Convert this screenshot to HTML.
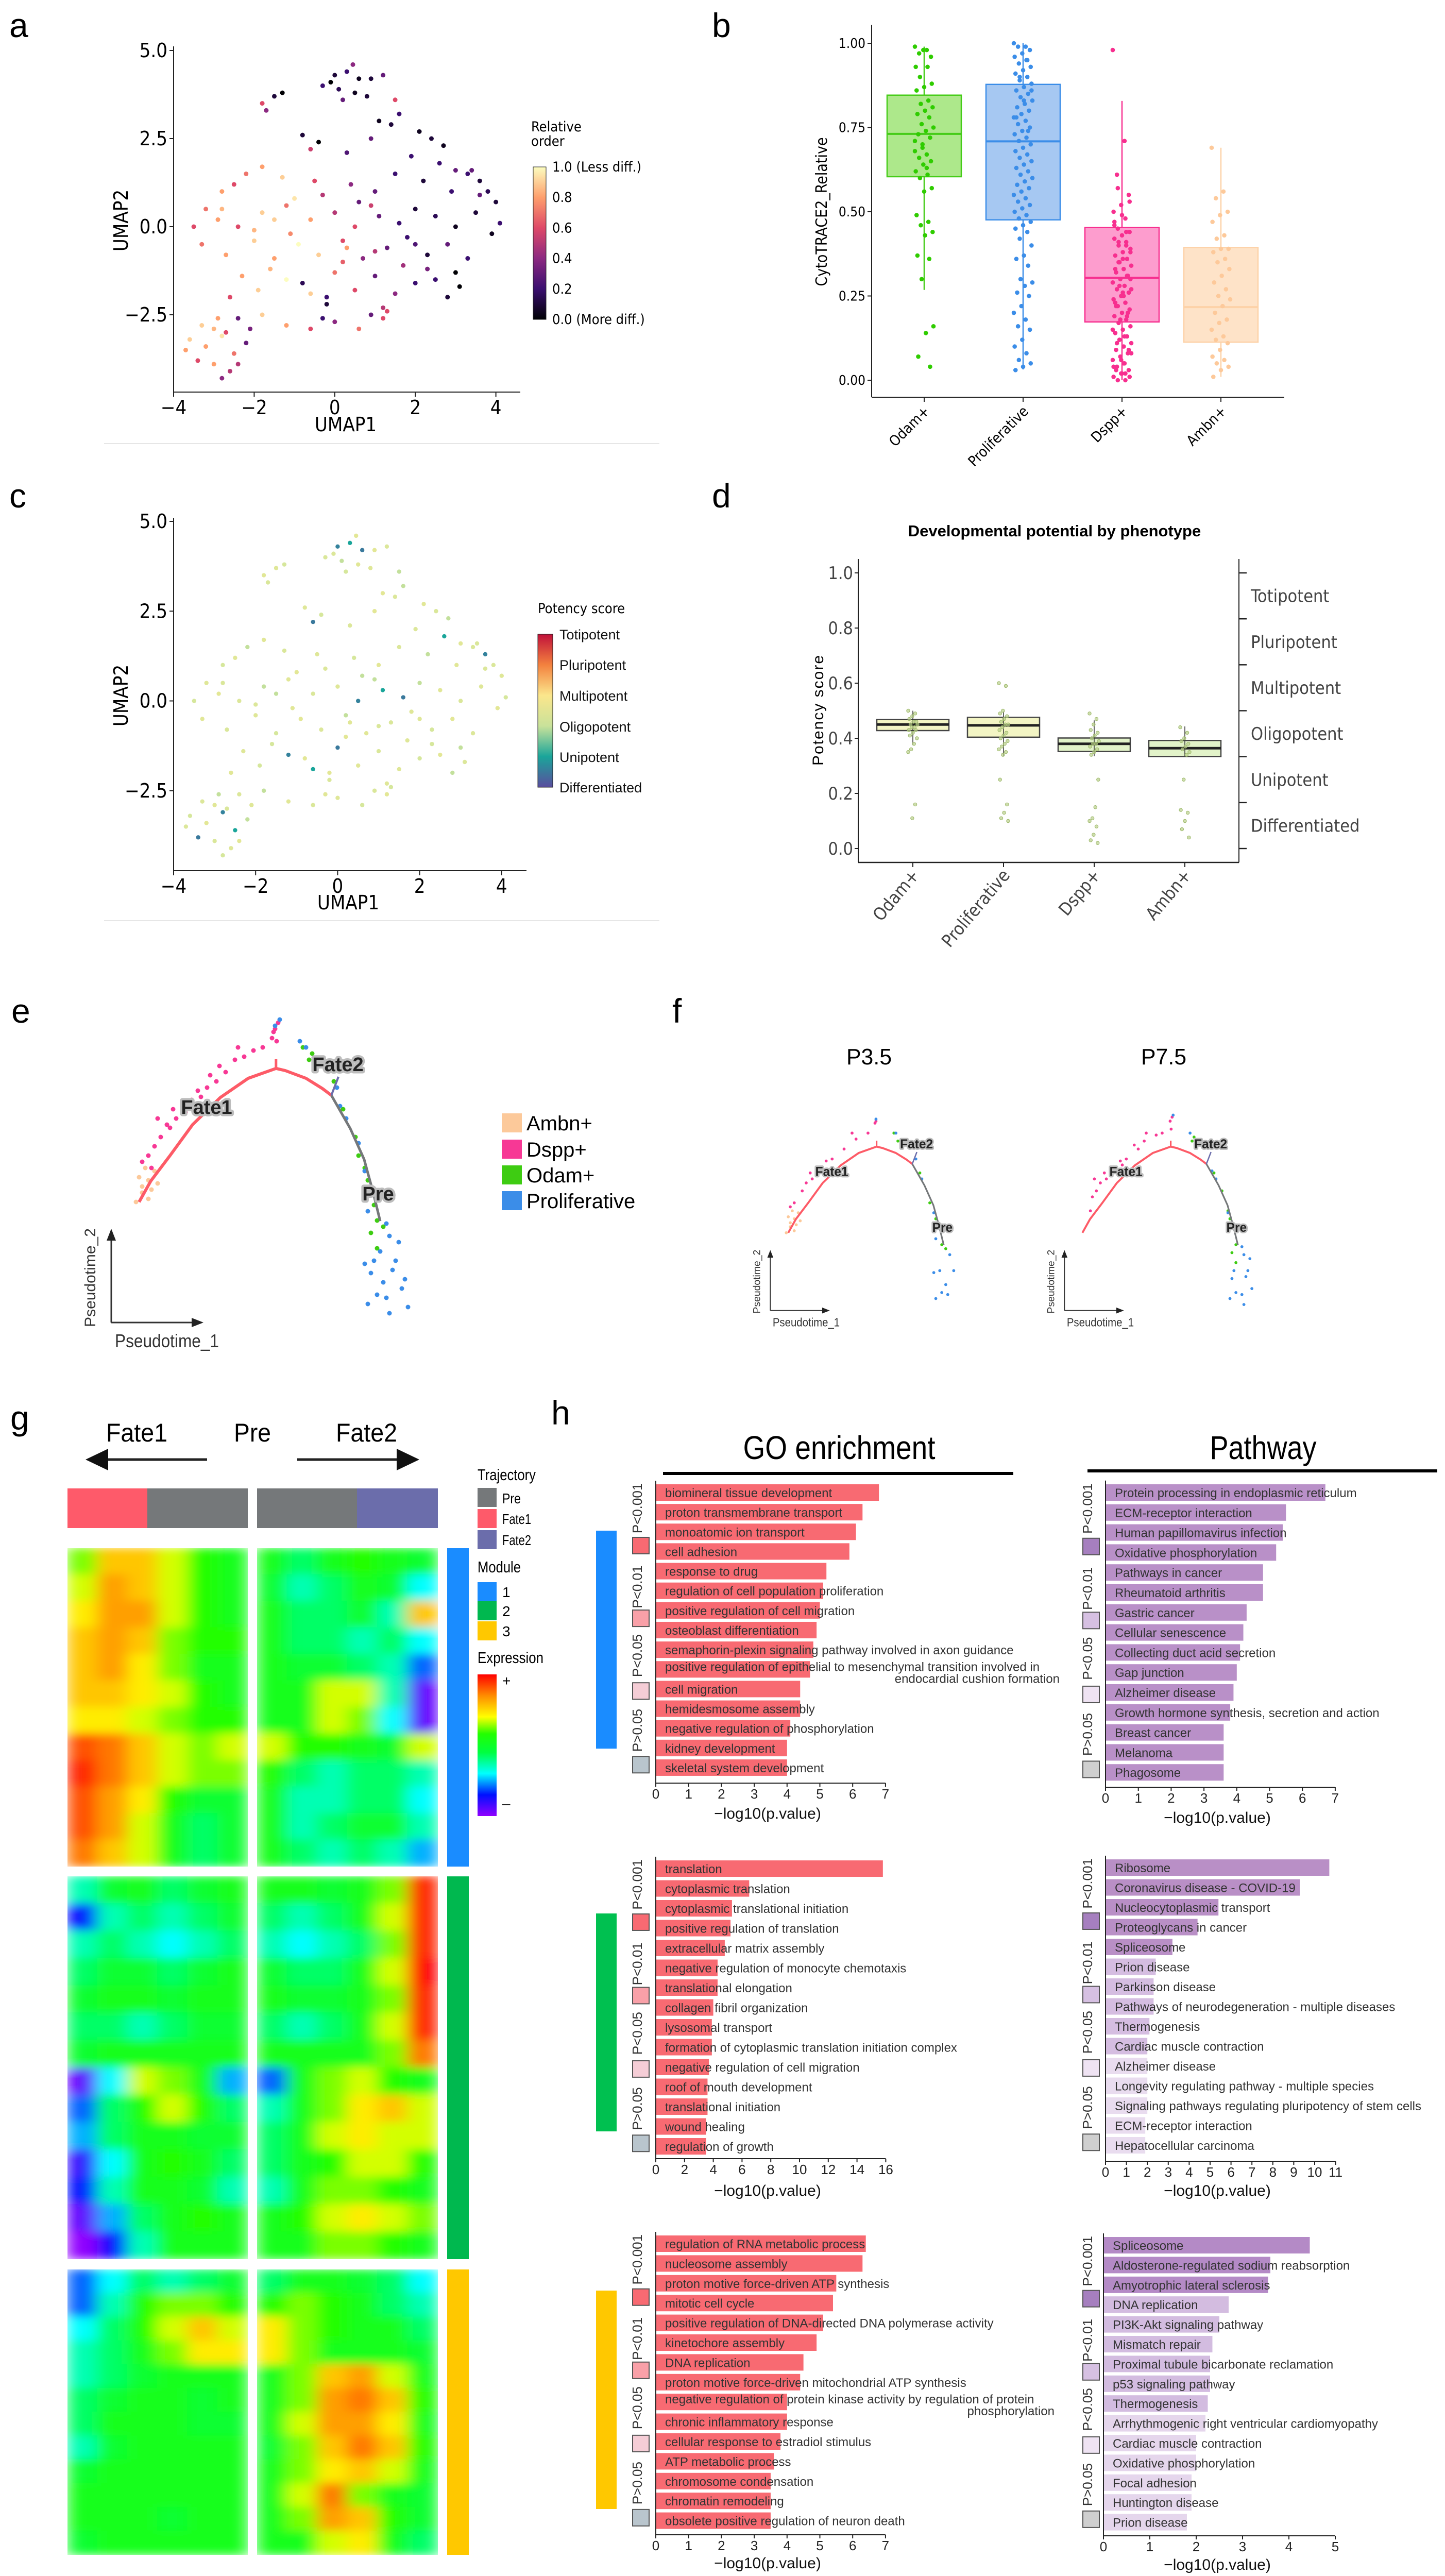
<!DOCTYPE html>
<html><head><meta charset="utf-8">
<style>
html,body{margin:0;padding:0;background:#fff;overflow:hidden;width:2805px;height:5040px;}
svg{display:block;}
text{font-family:"Liberation Sans",sans-serif;}
.dj{font-family:"DejaVu Sans Condensed","DejaVu Sans",sans-serif;}
</style></head>
<body>
<svg id="fig" width="2805" height="5040" viewBox="0 0 2805 5040" xmlns="http://www.w3.org/2000/svg">
<defs>
<linearGradient id="magma" x1="0" y1="1" x2="0" y2="0">
<stop offset="0" stop-color="#000004"/><stop offset="0.2" stop-color="#3b0f70"/><stop offset="0.4" stop-color="#8c2981"/><stop offset="0.6" stop-color="#de4968"/><stop offset="0.8" stop-color="#fe9f6d"/><stop offset="1" stop-color="#fcfdbf"/>
</linearGradient>
<linearGradient id="potgrad" x1="0" y1="1" x2="0" y2="0">
<stop offset="0" stop-color="#5a4d9e"/><stop offset="0.2" stop-color="#1aa59a"/><stop offset="0.4" stop-color="#c9e29a"/><stop offset="0.6" stop-color="#fbe68c"/><stop offset="0.8" stop-color="#f3813e"/><stop offset="1" stop-color="#c0103a"/>
</linearGradient>
<linearGradient id="exprgrad" x1="0" y1="1" x2="0" y2="0">
<stop offset="0" stop-color="#9000ff"/><stop offset="0.15" stop-color="#0010ff"/><stop offset="0.3" stop-color="#00ffff"/><stop offset="0.45" stop-color="#00ff40"/><stop offset="0.58" stop-color="#22ff00"/><stop offset="0.7" stop-color="#ffff00"/><stop offset="0.85" stop-color="#ff8c00"/><stop offset="1" stop-color="#ff0000"/>
</linearGradient>
<filter id="hblur" x="0" y="0" width="1" height="1"><feGaussianBlur stdDeviation="16 9" edgeMode="duplicate"/></filter>
</defs>

<!-- panel letters -->
<text x="18" y="72" font-size="66">a</text>
<text x="1382" y="72" font-size="66">b</text>
<text x="18" y="985" font-size="66">c</text>
<text x="1382" y="985" font-size="66">d</text>
<text x="22" y="1985" font-size="66">e</text>
<text x="1305" y="1985" font-size="66">f</text>
<text x="20" y="2775" font-size="66">g</text>
<text x="1070" y="2765" font-size="66">h</text>

<!-- panel a static -->
<text class="dj" x="671" y="837" font-size="38" text-anchor="middle">UMAP1</text>
<text class="dj" x="248" y="428" font-size="38" text-anchor="middle" transform="rotate(-90 248 428)">UMAP2</text>
<text class="dj" x="1031" y="255" font-size="27">Relative</text>
<text class="dj" x="1031" y="283" font-size="27">order</text>
<rect x="1035" y="324" width="25" height="296" fill="url(#magma)" stroke="#222" stroke-width="1"/>
<line x1="202" y1="861" x2="1280" y2="861" stroke="#e6e6e6" stroke-width="2"/>

<!-- panel b static -->
<text class="dj" x="1605" y="411" font-size="30" text-anchor="middle" transform="rotate(-90 1605 411)">CytoTRACE2_Relative</text>

<!-- panel c static -->
<text class="dj" x="676" y="1765" font-size="38" text-anchor="middle">UMAP1</text>
<text class="dj" x="248" y="1350" font-size="38" text-anchor="middle" transform="rotate(-90 248 1350)">UMAP2</text>
<text class="dj" x="1044" y="1190" font-size="27">Potency score</text>
<rect x="1044" y="1231" width="29" height="297" fill="url(#potgrad)" stroke="#222" stroke-width="1"/>
<g class="dj" font-size="27" fill="#111">
<text x="1086" y="1241">Totipotent</text><text x="1086" y="1300">Pluripotent</text><text x="1086" y="1360">Multipotent</text><text x="1086" y="1420">Oligopotent</text><text x="1086" y="1479">Unipotent</text><text x="1086" y="1538">Differentiated</text>
</g>
<line x1="202" y1="1787" x2="1280" y2="1787" stroke="#e6e6e6" stroke-width="2"/>

<!-- panel d static -->
<text x="2047" y="1041" font-size="31" font-weight="bold" text-anchor="middle">Developmental potential by phenotype</text>
<text x="1598" y="1378" font-size="30" text-anchor="middle" transform="rotate(-90 1598 1378)" letter-spacing="2">Potency score</text>

<!-- panel e legend -->
<g>
<rect x="974" y="2161" width="39" height="37" fill="#fcc99a"/><text x="1022" y="2194" font-size="40">Ambn+</text>
<rect x="974" y="2212" width="39" height="37" fill="#f73895"/><text x="1022" y="2245" font-size="40">Dspp+</text>
<rect x="974" y="2262" width="39" height="37" fill="#3ecc12"/><text x="1022" y="2295" font-size="40">Odam+</text>
<rect x="974" y="2312" width="39" height="37" fill="#3b8de8"/><text x="1022" y="2345" font-size="40">Proliferative</text>
</g>
<text x="1687" y="2066" font-size="44" text-anchor="middle" textLength="88" lengthAdjust="spacingAndGlyphs">P3.5</text>
<text x="2259" y="2066" font-size="44" text-anchor="middle" textLength="88" lengthAdjust="spacingAndGlyphs">P7.5</text>

<!-- panel g static -->
<text x="206" y="2798" font-size="50" textLength="119" lengthAdjust="spacingAndGlyphs">Fate1</text>
<text x="454" y="2798" font-size="50" textLength="72" lengthAdjust="spacingAndGlyphs">Pre</text>
<text x="652" y="2798" font-size="50" textLength="119" lengthAdjust="spacingAndGlyphs">Fate2</text>
<g><line x1="200" y1="2833" x2="402" y2="2833" stroke="#222" stroke-width="5"/><polygon points="166,2833 210,2812 210,2854" fill="#111"/></g>
<g><line x1="577" y1="2833" x2="780" y2="2833" stroke="#222" stroke-width="5"/><polygon points="814,2833 770,2812 770,2854" fill="#111"/></g>
<g>
<rect x="131" y="2889" width="155" height="77" fill="#fe5a6a"/><rect x="286" y="2889" width="195" height="77" fill="#75787a"/>
<rect x="499" y="2889" width="194" height="77" fill="#75787a"/><rect x="693" y="2889" width="157" height="77" fill="#6b6dab"/>
</g>
<g font-size="28">
<text x="927" y="2873" font-size="31" textLength="113" lengthAdjust="spacingAndGlyphs">Trajectory</text>
<rect x="927" y="2888" width="37" height="37" fill="#75787a"/><text x="975" y="2918" textLength="36" lengthAdjust="spacingAndGlyphs">Pre</text>
<rect x="927" y="2929" width="37" height="37" fill="#fe5a6a"/><text x="975" y="2958" textLength="56" lengthAdjust="spacingAndGlyphs">Fate1</text>
<rect x="927" y="2970" width="37" height="37" fill="#6b6dab"/><text x="975" y="2999" textLength="56" lengthAdjust="spacingAndGlyphs">Fate2</text>
<text x="927" y="3052" font-size="31" textLength="84" lengthAdjust="spacingAndGlyphs">Module</text>
<rect x="927" y="3071" width="37" height="37" fill="#1a8cff"/><text x="975" y="3100">1</text>
<rect x="927" y="3108" width="37" height="37" fill="#00b84f"/><text x="975" y="3137">2</text>
<rect x="927" y="3147" width="37" height="37" fill="#ffc800"/><text x="975" y="3176">3</text>
<text x="927" y="3228" font-size="31" textLength="128" lengthAdjust="spacingAndGlyphs">Expression</text>
<rect x="927" y="3250" width="37" height="275" fill="url(#exprgrad)"/>
<text x="975" y="3272">+</text><text x="975" y="3510">–</text>
</g>
<g>
<rect x="868" y="3005" width="42" height="618" fill="#1a8cff"/>
<rect x="868" y="3642" width="42" height="743" fill="#00b84f"/>
<rect x="868" y="4405" width="42" height="554" fill="#ffc800"/>
</g>
<g id="heatmap"></g>

<!-- panel h static -->
<text x="1629" y="2832" font-size="64" text-anchor="middle" textLength="373" lengthAdjust="spacingAndGlyphs">GO enrichment</text>
<line x1="1287" y1="2860" x2="1967" y2="2860" stroke="#000" stroke-width="6"/>
<text x="2452" y="2832" font-size="64" text-anchor="middle" textLength="207" lengthAdjust="spacingAndGlyphs">Pathway</text>
<line x1="2111" y1="2855" x2="2790" y2="2855" stroke="#000" stroke-width="6"/>
<g>
<rect x="1157" y="2971" width="40" height="423" fill="#1a8cff"/>
<rect x="1157" y="3714" width="40" height="423" fill="#00c050"/>
<rect x="1157" y="4446" width="40" height="424" fill="#ffc800"/>
</g>
</svg>

<script>
const NS='http://www.w3.org/2000/svg';
const fig=document.getElementById('fig');
function mk(tag,attrs,parent){const e=document.createElementNS(NS,tag);for(const k in attrs)e.setAttribute(k,attrs[k]);(parent||fig).appendChild(e);return e;}
function hex(c){return [parseInt(c.slice(1,3),16),parseInt(c.slice(3,5),16),parseInt(c.slice(5,7),16)];}
function ramp(stops,t){t=Math.max(stops[0][0],Math.min(stops[stops.length-1][0],t));for(let i=0;i<stops.length-1;i++){const a=stops[i],b=stops[i+1];if(t<=b[0]){const f=(t-a[0])/(b[0]-a[0]);const ca=hex(a[1]),cb=hex(b[1]);return 'rgb('+ca.map((v,j)=>Math.round(v+(cb[j]-v)*f)).join(',')+')';}}return stops[stops.length-1][1];}
const magmaStops=[[0,'#000004'],[0.2,'#3b0f70'],[0.4,'#8c2981'],[0.6,'#de4968'],[0.8,'#fe9f6d'],[1,'#fcfdbf']];
const potStops=[[0,'#5a4d9e'],[0.2,'#1aa59a'],[0.4,'#d6e79c'],[0.6,'#fbe68c'],[0.8,'#f3813e'],[1,'#c0103a']];
const heatStops=[[-1,'#9000ff'],[-0.7,'#0010ff'],[-0.4,'#00ffff'],[-0.15,'#00ff40'],[0.1,'#22ff00'],[0.35,'#ffff00'],[0.65,'#ff8c00'],[1,'#ff0000']];

/* ---------- UMAP data (panels a, c) ---------- */
const umapX=[0.0,0.3,0.6,0.9,1.2,0.1,0.5,-0.3,0.8,0.2,0.45,-0.1,1.5,-1.8,-1.7,-1.5,-1.3,
1.1,1.4,1.6,2.1,2.4,-0.8,-0.4,0.9,1.9,2.7,3.0,3.3,3.6,2.6,-0.6,0.3,
-2.2,-1.8,-1.3,-0.5,0.4,1.0,1.5,2.2,2.9,3.8,4.0,-2.8,-1.0,-0.3,0.6,-2.5,3.4,
-3.2,-3.5,-2.9,-2.4,-1.8,-1.2,-0.6,0.0,0.5,1.1,1.6,2.0,2.5,3.0,3.5,4.1,3.9,-2.0,0.9,
-3.3,-2.7,-2.0,-1.5,-0.9,-0.4,0.2,0.7,1.3,1.8,2.3,2.8,3.3,3.0,-1.1,1.0,
-2.3,-1.9,-1.2,-0.6,0.0,0.5,1.0,1.5,2.0,2.5,3.1,2.8,-2.6,-0.2,1.2,-1.6,0.2,
-2.4,-1.8,-1.2,-0.6,0.0,0.6,1.2,-3.3,-2.9,-0.3,0.9,-2.1,
-3.6,-3.2,-2.8,-2.5,-3.4,-3.0,-2.6,-2.8,-2.4,-3.7,-2.2,-3.0,-2.7,
1.7,2.3,-0.2,3.6,-1.5,0.3,-2.8,2.0,1.3,-0.8];
const umapY=[4.3,4.4,4.2,4.2,4.3,3.9,3.8,4.0,3.7,3.6,4.6,4.1,3.6,3.5,3.3,3.7,3.8,
3.0,2.9,3.2,2.7,2.5,2.6,2.4,2.5,2.0,2.3,1.6,1.5,1.3,1.8,2.2,2.1,
1.5,1.7,1.4,1.3,1.2,1.0,1.5,1.3,1.0,1.0,0.7,1.0,0.8,0.9,0.7,1.2,1.6,
0.5,0.0,0.2,0.0,0.4,0.6,0.2,0.4,0.0,0.3,0.1,0.5,0.3,0.0,0.4,0.1,-0.2,-0.1,0.6,
-0.5,-0.8,-0.4,-0.9,-0.5,-0.8,-0.4,-0.9,-0.6,-0.3,-0.8,-0.5,-0.9,-1.3,-0.2,-0.7,
-1.4,-1.8,-1.5,-1.9,-1.3,-1.8,-1.4,-1.9,-1.6,-1.5,-1.7,-2.0,-2.0,-2.2,-2.3,-1.2,-1.0,
-2.6,-2.5,-2.8,-2.9,-2.7,-2.9,-2.6,-2.8,-2.6,-2.6,-2.5,-2.9,
-3.2,-3.4,-3.1,-3.6,-3.8,-3.9,-4.1,-4.3,-3.9,-3.5,-3.3,-2.9,-3.0,
-1.1,-1.2,-2.0,0.9,0.2,-0.6,0.5,-0.5,-2.4,-1.6];
const relOrder=[0.1,0.2,0.05,0.1,0.3,0.15,0.05,0.2,0.1,0.3,0.4,0.0,0.6,0.6,0.4,0.1,0.0,
0.05,0.1,0.2,0.05,0.1,0.1,0.0,0.3,0.2,0.05,0.3,0.2,0.1,0.2,0.55,0.25,
0.7,0.8,0.9,0.6,0.4,0.3,0.2,0.1,0.2,0.15,0.1,0.8,0.95,0.5,0.3,0.6,0.3,
0.7,0.6,0.8,0.6,0.9,0.7,0.8,0.5,0.6,0.3,0.2,0.1,0.15,0.05,0.1,0.2,0.05,0.85,0.55,
0.7,0.8,0.9,0.8,1.0,0.9,0.6,0.4,0.3,0.2,0.1,0.3,0.2,0.0,0.75,0.5,
0.8,0.9,1.0,0.9,0.7,0.6,0.3,0.4,0.2,0.2,0.0,0.1,0.6,0.1,0.5,0.85,0.65,
0.3,0.9,0.8,0.6,0.4,0.7,0.6,0.9,0.8,0.2,0.3,0.35,
0.9,0.8,0.95,0.7,0.6,0.8,0.5,0.4,0.5,0.8,0.3,0.85,0.6,
0.45,0.35,0.2,0.3,0.9,0.8,0.85,0.25,0.6,0.15];
const potency=umapX.map((x,i)=>i%29<3?[0.12,0.2,0.1][i%29]:[0.42,0.45,0.4,0.47,0.43,0.38,0.46][i%7]);

function ax(x){return 337+(x+4)*78.2;}
function ay(y){return 98+(5-y)*68.4;}
function cxs(x){return 337+(x+4)*79.6;}
function cys(y){return 1012+(5-y)*69.7;}

function drawAxesUmap(prefix,xs,ys,yTop,yAxis,xEnd){
  let l=mk('line',{x1:337,y1:yTop,x2:337,y2:yAxis,stroke:'#222','stroke-width':2});
  
  
  l=mk('line',{x1:337,y1:yAxis,x2:xEnd,y2:yAxis,stroke:'#222','stroke-width':2});
  
  
  [-4,-2,0,2,4].forEach(v=>{
    const t=mk('line',{x1:xs(v),y1:yAxis,x2:xs(v),y2:yAxis+9,stroke:'#222','stroke-width':2});
    
    
    const tx=mk('text',{x:xs(v),y:yAxis+43,'font-size':38,'text-anchor':'middle','class':'dj'});
    tx.textContent=(v<0?'\u2212':'')+Math.abs(v);
    
    
  });
  [-2.5,0,2.5,5].forEach(v=>{
    const t=mk('line',{x1:329,y1:ys(v),x2:337,y2:ys(v),stroke:'#222','stroke-width':2});
    
    
    const tx=mk('text',{x:325,y:ys(v)+13,'font-size':38,'text-anchor':'end','class':'dj'});
    tx.textContent=(v<0?'\u2212':'')+Math.abs(v).toFixed(1);
    
    
  });
}
drawAxesUmap('a',ax,ay,90,761,1010);
drawAxesUmap('c',cxs,cys,1005,1690,1022);
umapX.forEach((x,i)=>{
  const p=mk('circle',{cx:ax(x),cy:ay(umapY[i]),r:4.5,fill:ramp(magmaStops,relOrder[i])});
  
  
  const q=mk('circle',{cx:cxs(x),cy:cys(umapY[i]),r:4.2,fill:ramp(potStops,potency[i])});
  
  
});
const aLegendTicks=[1.0,0.8,0.6,0.4,0.2,0.0];
const aLegendText=['1.0 (Less diff.)','0.8','0.6','0.4','0.2','0.0 (More diff.)'];
aLegendTicks.forEach((v,i)=>{
  const t=mk('text',{x:1072,y:620-296*v+9,'font-size':27,'class':'dj'});
  t.textContent=aLegendText[i];
  
  
});

/* ---------- panel b ---------- */
const bCats=['Odam+','Proliferative','Dspp+','Ambn+'];
const bQ1=[0.604,0.476,0.173,0.113];
const bMed=[0.731,0.709,0.304,0.217];
const bQ3=[0.846,0.878,0.453,0.394];
const bLo=[0.268,0.032,0.0,0.01];
const bHi=[0.99,1.0,0.829,0.69];
const bOdam=[0.99,0.98,0.97,0.96,0.98,0.93,0.93,0.90,0.88,0.87,0.86,0.83,0.82,0.81,0.80,0.79,0.78,0.76,0.75,0.74,0.73,0.72,0.69,0.68,0.67,0.66,0.65,0.64,0.62,0.61,0.60,0.57,0.56,0.49,0.47,0.46,0.44,0.43,0.37,0.36,0.30,0.16,0.14,0.07,0.04,0.70,0.71,0.63];
const bProl=[1.0,0.99,0.99,0.98,0.97,0.96,0.95,0.94,0.93,0.92,0.91,0.90,0.89,0.88,0.87,0.86,0.85,0.84,0.83,0.82,0.81,0.80,0.79,0.78,0.77,0.76,0.75,0.74,0.73,0.72,0.71,0.70,0.69,0.68,0.67,0.66,0.65,0.64,0.63,0.62,0.61,0.60,0.59,0.58,0.57,0.56,0.55,0.54,0.53,0.52,0.51,0.50,0.49,0.48,0.47,0.46,0.45,0.44,0.42,0.40,0.37,0.36,0.34,0.30,0.29,0.28,0.26,0.25,0.22,0.20,0.18,0.16,0.15,0.12,0.10,0.08,0.06,0.05,0.04,0.03,0.95,0.90,0.86,0.83,0.78,0.74];
const bDspp=[0.98,0.71,0.61,0.55,0.52,0.50,0.48,0.45,0.44,0.43,0.42,0.41,0.40,0.39,0.38,0.37,0.36,0.35,0.34,0.33,0.32,0.31,0.30,0.29,0.28,0.27,0.26,0.25,0.24,0.23,0.22,0.21,0.20,0.19,0.18,0.17,0.16,0.15,0.14,0.13,0.12,0.11,0.10,0.09,0.08,0.07,0.06,0.05,0.04,0.03,0.02,0.01,0.0,0.0,0.01,0.02,0.46,0.44,0.41,0.38,0.36,0.33,0.31,0.28,0.27,0.25,0.22,0.20,0.18,0.15,0.13,0.11,0.09,0.06,0.04,0.02,0.57,0.53,0.49,0.47,0.40,0.35,0.30,0.26,0.23,0.19,0.12,0.08,0.05,0.03];
const bAmbn=[0.69,0.56,0.54,0.50,0.49,0.47,0.43,0.42,0.39,0.39,0.38,0.36,0.35,0.33,0.31,0.29,0.27,0.25,0.24,0.22,0.20,0.18,0.17,0.15,0.13,0.12,0.11,0.09,0.07,0.06,0.05,0.04,0.03,0.01];
const bPts=[bOdam,bProl,bDspp,bAmbn];
const bFill=['#ade88b','#a6c8f2','#fd9dce','#fee3c8'];
const bStroke=['#45cc18','#3b8de8','#f72f8f','#fdd2a8'];
const bDot=['#2fcc00','#3b8de8','#f72f8f','#fdc99a'];
function bx(i){return 1794+i*192;}
function by(v){return 738-654*v;}
(function(){
  let l=mk('line',{x1:1692,y1:48,x2:1692,y2:771,stroke:'#222','stroke-width':2});
  
  
  l=mk('line',{x1:1692,y1:771,x2:2493,y2:771,stroke:'#222','stroke-width':2});
  
  
  [0,0.25,0.5,0.75,1].forEach(v=>{
    const t=mk('line',{x1:1684,y1:by(v),x2:1692,y2:by(v),stroke:'#222','stroke-width':2});
    
    
    const tx=mk('text',{x:1680,y:by(v)+9,'font-size':26,'text-anchor':'end','class':'dj'});
    tx.textContent=v.toFixed(2);
    
    
  });
  bCats.forEach((c,i)=>{
    const x=bx(i);
    const t=mk('line',{x1:x,y1:771,x2:x,y2:780,stroke:'#222','stroke-width':2});
    
    
    const tx=mk('text',{x:x+12,y:800,'font-size':28,'text-anchor':'end','class':'dj',transform:'rotate(-45 '+(x+12)+' 800)'});
    tx.textContent=c;
    
    
    const w=mk('line',{x1:x,y1:by(bHi[i]),x2:x,y2:by(bLo[i]),stroke:bStroke[i],'stroke-width':2.5});
    
    
    const r=mk('rect',{x:x-72,y:by(bQ3[i]),width:144,height:by(bQ1[i])-by(bQ3[i]),fill:bFill[i],stroke:bStroke[i],'stroke-width':2.5});
    
    
    const m=mk('line',{x1:x-72,y1:by(bMed[i]),x2:x+72,y2:by(bMed[i]),stroke:bStroke[i],'stroke-width':4});
    
    
    bPts[i].forEach((v,k)=>{
      const jx=((k*37)%23-11)/11*18;
      const p=mk('circle',{cx:x+jx,cy:by(v),r:4.3,fill:bDot[i]});
      
      
    });
  });
})();

/* ---------- panel d ---------- */
const dCats=['Odam+','Proliferative','Dspp+','Ambn+'];
const dQ1=[0.428,0.404,0.352,0.334];
const dMed=[0.450,0.447,0.380,0.364];
const dQ3=[0.468,0.476,0.401,0.392];
const dLo=[0.375,0.335,0.335,0.335];
const dHi=[0.50,0.497,0.465,0.443];
const dOdam=[0.50,0.49,0.48,0.47,0.46,0.46,0.45,0.45,0.44,0.44,0.43,0.43,0.42,0.41,0.40,0.38,0.36,0.35,0.16,0.11];
const dProl=[0.60,0.59,0.50,0.49,0.48,0.47,0.46,0.45,0.45,0.44,0.43,0.42,0.41,0.40,0.39,0.38,0.37,0.36,0.35,0.34,0.25,0.16,0.13,0.11,0.10];
const dDspp=[0.49,0.47,0.45,0.43,0.42,0.41,0.40,0.39,0.38,0.38,0.37,0.36,0.35,0.34,0.25,0.15,0.11,0.10,0.08,0.05,0.03,0.02];
const dAmbn=[0.44,0.42,0.40,0.39,0.38,0.37,0.36,0.35,0.34,0.25,0.14,0.13,0.10,0.07,0.04];
const dPts=[dOdam,dProl,dDspp,dAmbn];
const dFill=['#f3f5c4','#f3f5c4','#e2f3c9','#e2f3c9'];
function dxs(i){return 1772+i*176;}
function dys(v){return 1647-535*v;}
const dLevelNames=['Differentiated','Unipotent','Oligopotent','Multipotent','Pluripotent','Totipotent'];
(function(){
  let l=mk('line',{x1:1666,y1:1085,x2:1666,y2:1674,stroke:'#222','stroke-width':2});
  
  
  l=mk('line',{x1:1666,y1:1674,x2:2405,y2:1674,stroke:'#222','stroke-width':2.5});
  
  
  l=mk('line',{x1:2405,y1:1085,x2:2405,y2:1674,stroke:'#222','stroke-width':2});
  
  
  [0,0.2,0.4,0.6,0.8,1.0].forEach(v=>{
    const t=mk('line',{x1:1659,y1:dys(v),x2:1666,y2:dys(v),stroke:'#222','stroke-width':2});
    
    
    const tx=mk('text',{x:1656,y:dys(v)+12,'font-size':34,'text-anchor':'end','class':'dj',fill:'#444'});
    tx.textContent=v.toFixed(1);
    
    
  });
  for(let k=0;k<=6;k++){
    const t=mk('line',{x1:2405,y1:dys(k/6),x2:2420,y2:dys(k/6),stroke:'#222','stroke-width':2.5});
    
    
  }
  dLevelNames.forEach((n,k)=>{
    const tx=mk('text',{x:2428,y:dys((k+0.5)/6)+12,'font-size':34,'class':'dj',fill:'#444'});
    tx.textContent=n;
    
    
  });
  dCats.forEach((c,i)=>{
    const x=dxs(i);
    const t=mk('line',{x1:x,y1:1674,x2:x,y2:1683,stroke:'#222','stroke-width':2});
    
    
    const tx=mk('text',{x:x+14,y:1700,'font-size':34,'text-anchor':'end','class':'dj',fill:'#444',transform:'rotate(-50 '+(x+14)+' 1700)'});
    tx.textContent=c;
    
    
    const r=mk('rect',{x:x-70,y:dys(dQ3[i]),width:140,height:dys(dQ1[i])-dys(dQ3[i]),fill:dFill[i],stroke:'#444','stroke-width':2.5});
    
    
    const w=mk('line',{x1:x,y1:dys(dHi[i]),x2:x,y2:dys(dLo[i]),stroke:'#333','stroke-width':1.5});
    
    
    const m=mk('line',{x1:x-70,y1:dys(dMed[i]),x2:x+70,y2:dys(dMed[i]),stroke:'#222','stroke-width':5});
    
    
    dPts[i].forEach((v,k)=>{
      const jx=((k*29)%17-8)/8*9;
      const p=mk('circle',{cx:x+jx,cy:dys(v),r:3.2,fill:'#b9cf8a','fill-opacity':0.7,stroke:'#9cb86a','stroke-width':1});
      
      
    });
  });
})();

/* ---------- panels e / f trajectories ---------- */
const cellU=[1.0,1.2,1.4,0.9,1.3,1.1,1.5,1.0,1.2,0.8,
1.2,1.4,1.6,1.9,2.1,2.3,2.6,2.9,3.1,3.4,3.7,4.0,4.3,4.6,4.9,5.2,5.3,5.4,5.25,5.35,1.8,2.4,2.8,3.5,1.0,1.3,4.1,3.2,2.0,1.5,
6.2,6.5,6.9,7.2,7.5,7.9,8.0,8.2,8.3,8.5,8.6,8.4,8.8,8.6,6.4,
6.1,6.3,6.7,7.3,7.4,7.6,8.0,8.2,8.6,8.3,8.9,9.0,8.7,9.2,8.4,8.8,9.4,8.9,9.6,8.6,9.1,8.2,9.3,8.5,9.5,8.3,9.0,5.3,5.45];
const cellV=[4.4,4.6,4.9,4.7,4.3,5.0,4.5,4.2,4.0,3.9,
5.4,5.7,6.0,6.3,6.6,6.9,7.2,7.3,7.6,7.8,8.1,8.5,8.6,8.8,8.9,9.2,9.5,9.7,9.4,9.1,6.4,6.8,7.5,8.3,5.2,5.0,8.9,8.0,6.9,6.6,
8.9,8.7,8.3,7.8,6.9,6.0,5.4,5.0,4.6,3.8,3.3,2.9,3.1,2.4,8.5,
9.1,8.9,8.4,7.6,7.0,6.6,5.8,4.9,4.2,3.6,3.2,2.8,2.3,2.0,1.6,1.3,1.1,0.8,0.5,0.9,1.7,1.9,2.6,2.0,1.4,0.6,0.3,9.6,9.8];
const cellType=[0,0,0,0,0,0,0,0,0,0,
1,1,1,1,1,1,1,1,1,1,1,1,1,1,1,1,1,1,1,1,1,1,1,1,1,1,1,1,1,1,
2,2,2,2,2,2,2,2,2,2,2,2,2,2,2,
3,3,3,3,3,3,3,3,3,3,3,3,3,3,3,3,3,3,3,3,3,3,3,3,3,3,3,3,3];
const cellColors=['#fcc99a','#f73895','#3ecc12','#3b8de8'];
const fate1U=[0.9,1.28,1.9,2.63,3.53,4.43,5.33];
const fate1V=[3.9,4.58,5.4,6.4,7.28,7.9,8.22];
const fate2U=[5.33,5.63,6.3,6.83,7.12];
const fate2V=[8.22,8.15,7.9,7.57,7.35];
const preU=[7.12,7.73,8.18,8.48,8.7];
const preV=[7.35,6.28,5.28,4.18,3.28];
function eu(u){return 216+60*u;}
function ev(v){return 2567-60*v;}
function pathFrom(us,vs){return us.map((u,i)=>(i?'L':'M')+eu(u).toFixed(1)+','+ev(vs[i]).toFixed(1)).join(' ');}
function drawTraj(g,filter,prefix){
  cellU.forEach((u,i)=>{
    if(!filter(i))return;
    const p=mk('circle',{cx:eu(u),cy:ev(cellV[i]),r:4.5,fill:cellColors[cellType[i]]},g);
    
    
  });
  let l=mk('path',{d:pathFrom(fate1U,fate1V),fill:'none',stroke:'#fd5b67','stroke-width':6,'stroke-linejoin':'round'},g);
  
  
  l=mk('path',{d:pathFrom(fate2U,fate2V),fill:'none',stroke:'#fd5b67','stroke-width':6,'stroke-linejoin':'round'},g);
  
  
  l=mk('path',{d:pathFrom(preU,preV),fill:'none',stroke:'#75787a','stroke-width':5,'stroke-linejoin':'round'},g);
  
  
  l=mk('line',{x1:eu(fate1U[6]),y1:ev(fate1V[6]),x2:eu(fate1U[6]),y2:ev(fate1V[6])-18,stroke:'#fd5b67','stroke-width':5},g);
  
  
  l=mk('line',{x1:eu(7.12),y1:ev(7.35),x2:eu(7.35),y2:ev(7.95),stroke:'#6b6dab','stroke-width':4},g);
  
  
  const labs=[['Fate1',401,2162],['Fate2',656,2079],['Pre',734,2330]];
  labs.forEach(s=>{
    const t=mk('text',{x:s[1],y:s[2],'font-size':38,'font-weight':'bold','text-anchor':'middle',fill:'#222',stroke:'#bdbdbd','stroke-width':9,'paint-order':'stroke','stroke-linejoin':'round'},g);
    t.textContent=s[0];
    
    
  });
  l=mk('line',{x1:216,y1:2567,x2:216,y2:2405,stroke:'#333','stroke-width':3},g);
  
  
  let a=mk('polygon',{points:'216,2385 207,2408 225,2408',fill:'#222'},g);
  
  
  l=mk('line',{x1:216,y1:2567,x2:375,y2:2567,stroke:'#333','stroke-width':3},g);
  
  
  a=mk('polygon',{points:'395,2567 372,2558 372,2576',fill:'#222'},g);
  
  
  let t=mk('text',{x:324,y:2615,'font-size':36,'text-anchor':'middle',fill:'#333',textLength:202,lengthAdjust:'spacingAndGlyphs'},g);
  t.textContent='Pseudotime_1';
  
  
  t=mk('text',{x:185,y:2480,'font-size':30,'text-anchor':'middle',fill:'#333',transform:'rotate(-90 185 2480)'},g);
  t.textContent='Pseudotime_2';
  
  
}
const gE=mk('g',{});


drawTraj(gE,()=>true,'e');
const gF1=mk('g',{transform:'translate(1356 888) scale(0.645)'});


drawTraj(gF1,i=>i%2===0||cellType[i]===0,'f-p35');
const gF2=mk('g',{transform:'translate(1927 888) scale(0.645)'});


drawTraj(gF2,i=>cellType[i]!==0&&i%3!==1,'f-p75');

/* ---------- panel g heatmap ---------- */
const mod1Left=[[0.2,0.5,0.5,0.3,0.1,0],[0.3,0.6,0.5,0.3,0.1,0],[0.4,0.6,0.6,0.3,0.1,0],[0.5,0.6,0.5,0.2,0.1,0.1],[0.5,0.6,0.4,0.2,0,0],[0.5,0.5,0.4,0.3,0.1,0],[0.4,0.4,0.3,0.2,0.1,0.1],[0.8,0.7,0.5,0.3,0.2,0.3],[0.9,0.7,0.5,0.3,0.2,0.2],[0.8,0.6,0.4,0.1,-0.1,-0.1],[0.8,0.6,0.3,0,-0.2,-0.1],[0.7,0.5,0.3,0,-0.2,-0.1]];
const mod1Right=[[0,-0.2,0,0.1,0,-0.1],[-0.1,-0.3,-0.2,0,-0.1,-0.4],[0,-0.2,-0.2,-0.1,-0.3,0.5],[0,-0.2,-0.2,-0.3,-0.2,-0.4],[0,-0.1,-0.1,-0.2,-0.3,-0.6],[0,0,0.3,0.3,-0.3,-0.9],[0,0,0.3,0.2,-0.4,-0.9],[0.3,0.1,0.1,0,-0.1,0.3],[0.1,-0.2,-0.3,-0.2,-0.2,-0.3],[0,-0.3,-0.3,-0.2,-0.2,-0.4],[0,-0.3,-0.2,-0.1,-0.1,-0.3],[0,-0.2,-0.3,-0.2,-0.3,-0.5]];
const mod2Left=[[-0.3,-0.1,0,-0.2,-0.1,0],[-0.7,-0.3,-0.2,-0.3,-0.2,-0.1],[-0.3,-0.2,-0.3,-0.4,-0.3,-0.2],[-0.2,-0.1,-0.1,-0.2,-0.1,0],[-0.1,0,0,-0.1,0,0],[-0.2,-0.2,-0.3,-0.2,-0.1,-0.1],[-0.1,0,0,0,0,0],[-0.9,-0.4,0.3,0.2,0,-0.5],[-0.6,-0.2,0.1,0.3,0.1,-0.2],[-0.5,-0.2,0,0,-0.1,-0.1],[-0.8,-0.4,0,0.1,0,-0.2],[-0.7,-0.3,0,0,-0.1,-0.3],[-0.9,-0.5,-0.2,0,0.1,0],[-1,-0.7,-0.3,0,0,0]];
const mod2Right=[[0,0,-0.1,0,0.2,0.9],[-0.2,-0.3,-0.2,0,0.3,0.9],[-0.3,-0.4,-0.3,-0.2,0.2,0.9],[-0.1,-0.2,-0.2,0,0.3,1],[0,-0.1,-0.1,0,0.2,0.9],[-0.2,-0.3,-0.2,0,0.3,0.9],[0,0,0,0,0.2,0.7],[-0.6,0,0.2,0.3,0.1,0],[-0.3,0,0.2,0.4,0.5,0.3],[-0.2,0,0.3,0.4,0.3,0.3],[-0.2,0,0.1,0.3,0.3,0.1],[-0.3,0,0.2,0.2,0.1,0],[0,0.1,0.3,0.4,0.3,0.2],[0,0,0.2,0.2,0.1,0]];
const mod3Left=[[-0.6,-0.4,-0.2,-0.3,-0.2,-0.1],[-0.6,-0.3,0.1,0.2,0.2,0.1],[-0.4,-0.2,0.1,0.3,0.5,0.3],[-0.3,-0.2,0,0.2,0.4,0.4],[-0.3,-0.2,-0.1,0,0,0],[-0.2,-0.1,0,0,-0.1,0],[-0.2,0,0,0,-0.1,-0.1],[-0.3,-0.1,0,0,0,0],[-0.1,0,0,0,0,0],[0,0,0,0,0,0],[0,0,0,-0.1,0,0],[-0.1,0,0,0,0,0]];
const mod3Right=[[-0.2,0,0,-0.1,-0.2,-0.4],[0.1,0.2,0.1,0,-0.2,-0.3],[0.4,0.2,0.1,0,0,-0.2],[0.4,0.2,0,0,0,-0.1],[0,0.2,0.5,0.6,0.3,0],[0,0.2,0.6,0.7,0.5,0.1],[0,0.3,0.6,0.6,0.4,0],[-0.1,0.2,0.5,0.7,0.5,0.1],[0,0.2,0.4,0.5,0.3,0],[0,0.3,0.7,0.2,0,-0.1],[0,0.2,0.6,0.5,0.1,-0.1],[0,0,0.3,0.4,0,-0.2]];
const modules=[[mod1Left,mod1Right,3005,3623],[mod2Left,mod2Right,3642,4385],[mod3Left,mod3Right,4405,4959]];
(function(){
  const hm=document.getElementById('heatmap');
  const halves=[[131,481],[499,850]];
  modules.forEach((m,mi)=>{
    [0,1].forEach(h=>{
      const data=m[h];const x0=halves[h][0],x1=halves[h][1],y0=m[2],y1=m[3];
      const svgIn=mk('svg',{x:x0,y:y0,width:x1-x0,height:y1-y0,overflow:'hidden'},hm);
      
      
      const g=mk('g',{filter:'url(#hblur)'},svgIn);
      const rh=(y1-y0)/data.length, cw=(x1-x0)/6;
      data.forEach((row,r)=>row.forEach((v,c)=>{
        const cell=mk('rect',{x:c*cw-1,y:r*rh-1,width:cw+2,height:rh+2,fill:ramp(heatStops,v)},g);
        
        
      }));
    });
  });
})();

/* ---------- panel h bar charts ---------- */
const go1Terms=['biomineral tissue development','proton transmembrane transport','monoatomic ion transport','cell adhesion','response to drug','regulation of cell population proliferation','positive regulation of cell migration','osteoblast differentiation','semaphorin-plexin signaling pathway involved in axon guidance','positive regulation of epithelial to mesenchymal transition involved in|endocardial cushion formation','cell migration','hemidesmosome assembly','negative regulation of phosphorylation','kidney development','skeletal system development'];
const go1Vals=[6.8,6.3,6.1,5.9,5.2,5.1,5.0,4.9,4.8,4.7,4.4,4.4,4.1,4.0,4.0];
const go2Terms=['translation','cytoplasmic translation','cytoplasmic translational initiation','positive regulation of translation','extracellular matrix assembly','negative regulation of monocyte chemotaxis','translational elongation','collagen fibril organization','lysosomal transport','formation of cytoplasmic translation initiation complex','negative regulation of cell migration','roof of mouth development','translational initiation','wound healing','regulation of growth'];
const go2Vals=[15.8,6.5,5.3,5.2,4.8,4.3,4.3,4.0,3.9,3.9,3.7,3.6,3.6,3.5,3.5];
const go3Terms=['regulation of RNA metabolic process','nucleosome assembly','proton motive force-driven ATP synthesis','mitotic cell cycle','positive regulation of DNA-directed DNA polymerase activity','kinetochore assembly','DNA replication','proton motive force-driven mitochondrial ATP synthesis','negative regulation of protein kinase activity by regulation of protein|phosphorylation','chronic inflammatory response','cellular response to estradiol stimulus','ATP metabolic process','chromosome condensation','chromatin remodeling','obsolete positive regulation of neuron death'];
const go3Vals=[6.4,6.3,5.5,5.4,5.1,4.9,4.5,4.4,4.0,4.0,3.8,3.6,3.5,3.5,3.5];
const pw1Terms=['Protein processing in endoplasmic reticulum','ECM-receptor interaction','Human papillomavirus infection','Oxidative phosphorylation','Pathways in cancer','Rheumatoid arthritis','Gastric cancer','Cellular senescence','Collecting duct acid secretion','Gap junction','Alzheimer disease','Growth hormone synthesis, secretion and action','Breast cancer','Melanoma','Phagosome'];
const pw1Vals=[6.7,5.5,5.4,5.2,4.8,4.8,4.3,4.2,4.1,4.0,3.9,3.8,3.6,3.6,3.6];
const pw2Terms=['Ribosome','Coronavirus disease - COVID-19','Nucleocytoplasmic transport','Proteoglycans in cancer','Spliceosome','Prion disease','Parkinson disease','Pathways of neurodegeneration - multiple diseases','Thermogenesis','Cardiac muscle contraction','Alzheimer disease','Longevity regulating pathway - multiple species','Signaling pathways regulating pluripotency of stem cells','ECM-receptor interaction','Hepatocellular carcinoma'];
const pw2Vals=[10.7,9.3,5.4,4.4,3.2,2.4,2.3,2.3,2.1,2.0,2.0,2.0,2.0,1.9,1.9];
const pw3Terms=['Spliceosome','Aldosterone-regulated sodium reabsorption','Amyotrophic lateral sclerosis','DNA replication','PI3K-Akt signaling pathway','Mismatch repair','Proximal tubule bicarbonate reclamation','p53 signaling pathway','Thermogenesis','Arrhythmogenic right ventricular cardiomyopathy','Cardiac muscle contraction','Oxidative phosphorylation','Focal adhesion','Huntington disease','Prion disease'];
const pw3Vals=[4.45,3.6,3.55,2.7,2.5,2.35,2.3,2.3,2.25,2.2,2.0,2.0,1.9,1.9,1.8];
const pLabels=['P<0.001','P<0.01','P<0.05','P>0.05'];
const goSq=['#f86a72','#f9a0a8','#f5cdd6','#b9c5cd'];
const pwSq=['#a67fbf','#d6c0e2','#efe3f3','#cfcfcf'];
const goColor=Array(15).fill('#f86a72');
const pw1Color=Array(15).fill('#b990c8');
const pw2Color=[0,0,0,0,0,1,1,1,1,1,2,2,2,2,2].map(k=>['#b98fc6','#d5bde1','#e9dcef'][k]);
const pw3Color=[0,0,0,1,1,1,1,1,1,2,2,2,2,2,2].map(k=>['#b48ac6','#d3bce0','#e5d6ec'][k]);
const blocks=[
 {n:'go1',terms:go1Terms,vals:go1Vals,col:goColor,x0:1273,sc:63.7,y0:2897,pitch:38.14,axisY:3461,ticks:[0,1,2,3,4,5,6,7],xl:1490,xlY:3530,px:1237,sq:goSq},
 {n:'go2',terms:go2Terms,vals:go2Vals,col:goColor,x0:1273,sc:27.9,y0:3627,pitch:38.5,axisY:4190,ticks:[0,2,4,6,8,10,12,14,16],xl:1490,xlY:4262,px:1237,sq:goSq},
 {n:'go3',terms:go3Terms,vals:go3Vals,col:goColor,x0:1273,sc:63.7,y0:4355,pitch:38.4,axisY:4920,ticks:[0,1,2,3,4,5,6,7],xl:1490,xlY:4985,px:1237,sq:goSq},
 {n:'pw1',terms:pw1Terms,vals:pw1Vals,col:pw1Color,x0:2146,sc:63.7,y0:2897,pitch:38.8,axisY:3469,ticks:[0,1,2,3,4,5,6,7],xl:2363,xlY:3538,px:2111,sq:pwSq},
 {n:'pw2',terms:pw2Terms,vals:pw2Vals,col:pw2Color,x0:2146,sc:40.6,y0:3625,pitch:38.5,axisY:4195,ticks:[0,1,2,3,4,5,6,7,8,9,10,11],xl:2363,xlY:4262,px:2111,sq:pwSq},
 {n:'pw3',terms:pw3Terms,vals:pw3Vals,col:pw3Color,x0:2142,sc:90,y0:4358,pitch:38.4,axisY:4922,ticks:[0,1,2,3,4,5],xl:2363,xlY:4988,px:2111,sq:pwSq}
];
blocks.forEach(b=>{
  const g=mk('g',{});
  
  
  b.vals.forEach((v,i)=>{
    const yc=b.y0+i*b.pitch;
    const r=mk('rect',{x:b.x0,y:yc-16,width:v*b.sc,height:32,fill:b.col[i]},g);
    
    
    const parts=b.terms[i].split('|');
    const t=mk('text',{x:b.x0+18,y:parts.length>1?yc+3:yc+9,'font-size':24,fill:'#333'},g);
    t.textContent=parts[0];
    
    
    if(parts.length>1){
      const t2=mk('text',{x:b.n==='go1'?2057:2047,y:yc+26,'font-size':24,fill:'#333','text-anchor':'end'},g);
      t2.textContent=parts[1];
      
      
    }
  });
  const top=b.y0-b.pitch*0.6;
  let l=mk('line',{x1:b.x0,y1:top,x2:b.x0,y2:b.axisY,stroke:'#222','stroke-width':2},g);
  
  
  const tmax=b.ticks[b.ticks.length-1];
  l=mk('line',{x1:b.x0,y1:b.axisY,x2:b.x0+tmax*b.sc,y2:b.axisY,stroke:'#222','stroke-width':2},g);
  
  
  b.ticks.forEach(tv=>{
    const tk=mk('line',{x1:b.x0+tv*b.sc,y1:b.axisY,x2:b.x0+tv*b.sc,y2:b.axisY+7,stroke:'#222','stroke-width':2},g);
    
    
    const tl=mk('text',{x:b.x0+tv*b.sc,y:b.axisY+30,'font-size':26,'text-anchor':'middle',fill:'#222'},g);
    tl.textContent=tv;
    
    
  });
  const xlab=mk('text',{x:b.xl,y:b.xlY,'font-size':30,'text-anchor':'middle',fill:'#111'},g);
  xlab.textContent='\u2212log10(p.value)';
  
  
  const lp=[0.8,4.8,8.3,12.1], sp=[2.7,6.4,10.1,13.85];
  pLabels.forEach((p,k)=>{
    const y=b.y0+lp[k]*b.pitch;
    const t=mk('text',{x:b.px+9,y:y,'font-size':26,'text-anchor':'middle',fill:'#333',transform:'rotate(-90 '+(b.px+9)+' '+y+')'},g);
    t.textContent=p;
    
    
    const sy=b.y0+sp[k]*b.pitch;
    const s=mk('rect',{x:b.px-9,y:sy-16,width:32,height:32,fill:b.sq[k],stroke:'#555','stroke-width':2},g);
    
    
  });
});
</script>
</body></html>
